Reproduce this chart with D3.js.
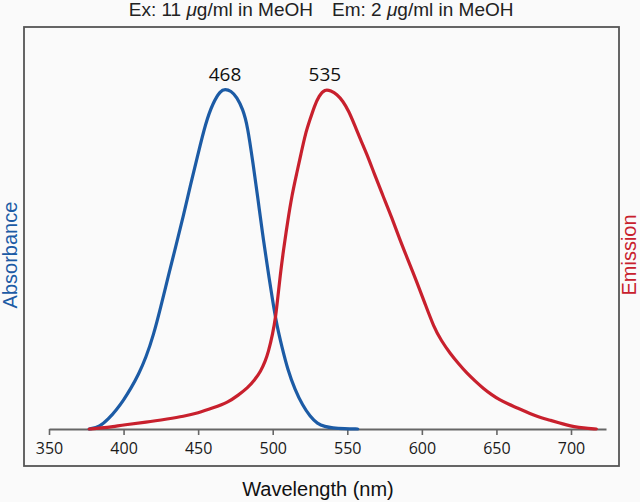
<!DOCTYPE html>
<html>
<head>
<meta charset="utf-8">
<script src="https://cdn.jsdelivr.net/npm/d3@7"></script>
<style>
  html, body { margin: 0; padding: 0; background: #fafafa; }
  svg { display: block; }
</style>
</head>
<body>
<script>
// ---- data ----
const absWavelength = [377,384,390,395,400,405,410,415,420,425,430,435,440,445,450,455,460,465,468,472,476,480,483,487,490,493,496,500,503,506,510,515,520,525,530,535,540,548,557];
const absValue      = [0,0.006,0.03,0.055,0.085,0.12,0.16,0.21,0.275,0.36,0.45,0.537,0.625,0.72,0.81,0.9,0.96,0.995,1.0,0.995,0.976,0.94,0.895,0.775,0.68,0.58,0.49,0.375,0.3,0.245,0.175,0.115,0.07,0.037,0.015,0.007,0.003,0.001,0];

const emWavelength = [377,385,393,400,415,430,440,450,460,470,477,483,488,492,495,497,500,502,503.5,505,507,510,513,516,519,522,525,528,531,535,539,543,547,551,555,559,563,568,574,580,585,590,597,602,608,613,619,625,630,636,641,647,652,658,664,670,675,680,686,692,697,702,708,717];
const emValue      = [0,0.003,0.007,0.012,0.02,0.03,0.037,0.047,0.062,0.078,0.1,0.12,0.145,0.17,0.2,0.225,0.28,0.33,0.39,0.45,0.52,0.61,0.69,0.75,0.81,0.87,0.91,0.95,0.98,1.0,0.995,0.985,0.965,0.935,0.893,0.85,0.81,0.752,0.685,0.62,0.56,0.505,0.428,0.37,0.3,0.26,0.222,0.19,0.165,0.14,0.12,0.1,0.086,0.073,0.062,0.05,0.041,0.033,0.026,0.018,0.012,0.007,0.003,0];

const xTicks = [350,400,450,500,550,600,650,700];
const peakLabels = [{nm: 468, text: "468"}, {nm: 535, text: "535"}];

// ---- layout ----
const W = 640, H = 502;
const blue = "#1c5ba5", red = "#c8202d";

const svg = d3.select("body").append("svg").attr("width", W).attr("height", H);
svg.append("rect").attr("width", W).attr("height", H).attr("fill", "#fafafa");

const x = d3.scaleLinear().domain([350, 700]).range([49, 571]);
const y = d3.scaleLinear().domain([0, 1]).range([429, 89]);

// frame
svg.append("rect").attr("x", 24).attr("y", 27).attr("width", 595).attr("height", 439)
  .attr("fill", "none").attr("stroke", "#555").attr("stroke-width", 1.8);

// x axis
const axisEnd = x.invert(606);
const xAxisScale = d3.scaleLinear().domain([350, axisEnd]).range([49, 606]);
const gx = svg.append("g").attr("transform", "translate(0,429)")
  .call(d3.axisBottom(xAxisScale).tickValues(xTicks).tickSize(6).tickSizeOuter(0).tickPadding(8).tickFormat(d3.format("d")));
gx.select(".domain").attr("stroke", "#666").attr("stroke-width", 2);
gx.selectAll(".tick line").attr("stroke", "#666").attr("stroke-width", 1.6);
gx.selectAll(".tick text").attr("font-family", "'Open Sans', sans-serif").attr("font-size", 16).attr("fill", "#1a1a1a");

// curves
const line = d3.line().x(d => x(d[0])).y(d => y(d[1])).curve(d3.curveBasis);
const absData = absWavelength.map((w, i) => [w, absValue[i]]);
const emData = emWavelength.map((w, i) => [w, emValue[i]]);

svg.append("path").datum(absData).attr("d", line).attr("fill", "none")
  .attr("stroke", blue).attr("stroke-width", 3.2).attr("stroke-linecap", "round");
svg.append("path").datum(emData).attr("d", line).attr("fill", "none")
  .attr("stroke", red).attr("stroke-width", 3.2).attr("stroke-linecap", "round");

// peak labels
svg.selectAll(".peak").data(peakLabels).enter().append("text")
  .attr("x", d => x(d.nm)).attr("y", y(1) - 8)
  .attr("text-anchor", "middle").attr("font-family", "'Open Sans', sans-serif")
  .attr("font-size", 19).attr("fill", "#111").text(d => d.text);

// title
const tf = "'Liberation Sans', Arial, sans-serif";
const t1 = svg.append("text").attr("x", 313).attr("y", 16).attr("text-anchor", "end")
  .attr("font-family", tf).attr("font-size", 19).attr("fill", "#222");
t1.append("tspan").text("Ex: 11 ");
t1.append("tspan").attr("font-style", "italic").text("μ");
t1.append("tspan").text("g/ml in MeOH");
const t2 = svg.append("text").attr("x", 332).attr("y", 16).attr("text-anchor", "start")
  .attr("font-family", tf).attr("font-size", 19).attr("fill", "#222");
t2.append("tspan").text("Em: 2 ");
t2.append("tspan").attr("font-style", "italic").text("μ");
t2.append("tspan").text("g/ml in MeOH");

// axis titles
svg.append("text").attr("x", 318).attr("y", 496).attr("text-anchor", "middle")
  .attr("font-family", tf).attr("font-size", 20).attr("fill", "#111").text("Wavelength (nm)");
svg.append("text").attr("transform", "translate(17,255) rotate(-90)").attr("text-anchor", "middle")
  .attr("font-family", tf).attr("font-size", 20).attr("fill", blue).text("Absorbance");
svg.append("text").attr("transform", "translate(636,255) rotate(-90)").attr("text-anchor", "middle")
  .attr("font-family", tf).attr("font-size", 20).attr("fill", red).text("Emission");
</script>
</body>
</html>
